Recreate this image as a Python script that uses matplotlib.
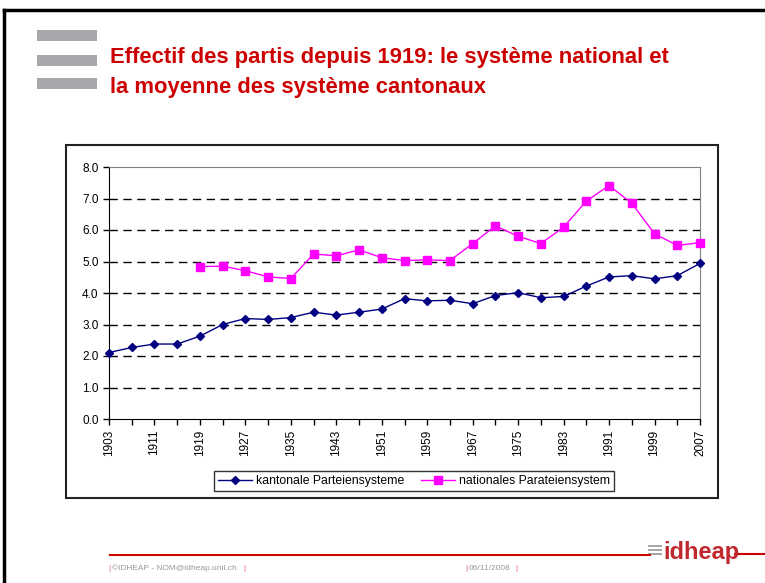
import matplotlib
matplotlib.use("Agg")
import matplotlib.pyplot as plt
from matplotlib.patches import Rectangle
from matplotlib.lines import Line2D

# Data
years = list(range(1903, 2008, 4))
kantonal = [2.11, 2.27, 2.38, 2.38, 2.63, 3.00, 3.19, 3.16, 3.22, 3.39, 3.30, 3.39, 3.49,
            3.82, 3.75, 3.77, 3.66, 3.92, 4.01, 3.85, 3.89, 4.22, 4.51, 4.55, 4.45, 4.55, 4.94]
national_years = list(range(1919, 2008, 4))
national = [4.84, 4.85, 4.71, 4.51, 4.46, 5.24, 5.18, 5.37, 5.12, 5.03, 5.05, 5.03,
            5.57, 6.13, 5.80, 5.57, 6.09, 6.92, 7.41, 6.85, 5.88, 5.51, 5.60]
y_ticks = [0, 1, 2, 3, 4, 5, 6, 7, 8]

W, H = 765, 583
fig = plt.figure(figsize=(W / 100, H / 100), dpi=100, facecolor="white")

def fx(px):
    return px / W

def fy(py):
    return 1 - py / H

# slide frame (top and left edges)
fig.add_artist(Line2D([fx(4), 1], [fy(10), fy(10)], color="black", lw=2.5))
fig.add_artist(Line2D([fx(4), fx(4)], [fy(10), 0], color="black", lw=2.5))

# grey bars next to the title
for top in (30, 55, 78):
    fig.add_artist(Rectangle((fx(37), fy(top + 11)), fx(60), 11 / H,
                             facecolor="#a7a8ab", edgecolor="none"))

fig.text(fx(110), fy(58), "Effectif des partis depuis 1919: le système national et",
         color="#cc0000", fontsize=15.8, family="Liberation Sans", fontweight="bold",
         va="center", ha="left")
fig.text(fx(110), fy(87), "la moyenne des système cantonaux",
         color="#cc0000", fontsize=15.8, family="Liberation Sans", fontweight="bold",
         va="center", ha="left")

# chart frame
fig.add_artist(Rectangle((fx(66), fy(498)), fx(652), 353 / H, facecolor="none",
                         edgecolor="#222222", lw=1.5))

ax = fig.add_axes([fx(109), fy(419), fx(700 - 109), (419 - 167) / H])
pos_k = [years.index(y) for y in years]
pos_n = [years.index(y) for y in national_years]
ax.plot(pos_k, kantonal, color="#000080", lw=1, marker="D", markersize=4.5,
        label="kantonale Parteiensysteme", clip_on=False, zorder=3)
ax.plot(pos_n, national, color="#ff00ff", lw=1, marker="s", markersize=5.5,
        label="nationales Parateiensystem", clip_on=False, zorder=3)

ax.set_xlim(0, len(years) - 1)
ax.set_ylim(0, 8)
ax.set_yticks(y_ticks)
ax.set_yticklabels([f"{v:.1f}" for v in y_ticks], fontsize=8.5, family="Liberation Sans")
ax.set_xticks(range(len(years)))
ax.set_xticklabels([str(y) if i % 2 == 0 else "" for i, y in enumerate(years)],
                   rotation=90, fontsize=8.5, family="Liberation Sans")
ax.tick_params(axis="both", direction="out", length=4, width=1, color="black")
for v in y_ticks[1:-1]:
    ax.axhline(v, color="black", lw=1, ls=(0, (6, 4)), zorder=0)

ax.spines["left"].set_color("black")
ax.spines["bottom"].set_color("black")
ax.spines["top"].set_color("#808080")
ax.spines["right"].set_color("#808080")

leg = fig.legend(loc="center", bbox_to_anchor=(fx(414), fy(481)), ncol=2,
                 prop={"family": "Liberation Sans", "size": 8.8}, frameon=True,
                 fancybox=False, edgecolor="black", handlelength=2.8,
                 columnspacing=1.4, handletextpad=0.3, borderpad=0.35)
leg.get_frame().set_linewidth(1)

# footer
fig.add_artist(Line2D([fx(110), fx(650)], [fy(555), fy(555)], color="#cc0000", lw=1.5))
fig.add_artist(Line2D([fx(735), 1], [fy(554), fy(554)], color="#cc0000", lw=1.5))
foot = dict(fontsize=6, family="Liberation Sans", va="center")
fig.text(fx(108), fy(568), "|", color="#e05050", **foot)
fig.text(fx(112), fy(568), "©IDHEAP - NOM@idheap.unil.ch", color="#999999", **foot)
fig.text(fx(243), fy(568), "|", color="#e05050", **foot)
fig.text(fx(465), fy(568), "|", color="#e05050", **foot)
fig.text(fx(469), fy(568), "06/11/2008", color="#999999", **foot)
fig.text(fx(515), fy(568), "|", color="#e05050", **foot)
# idheap logo: three grey strokes + red word
for top in (545, 549, 553):
    fig.add_artist(Rectangle((fx(648), fy(top + 2)), fx(14), 2 / H,
                             facecolor="#a7a8ab", edgecolor="none"))
fig.text(fx(663), fy(552), "idheap", fontsize=17, color="#c0282e",
         family="Liberation Sans", fontweight="bold", va="center", ha="left")

fig.savefig("out.png", dpi=100)
